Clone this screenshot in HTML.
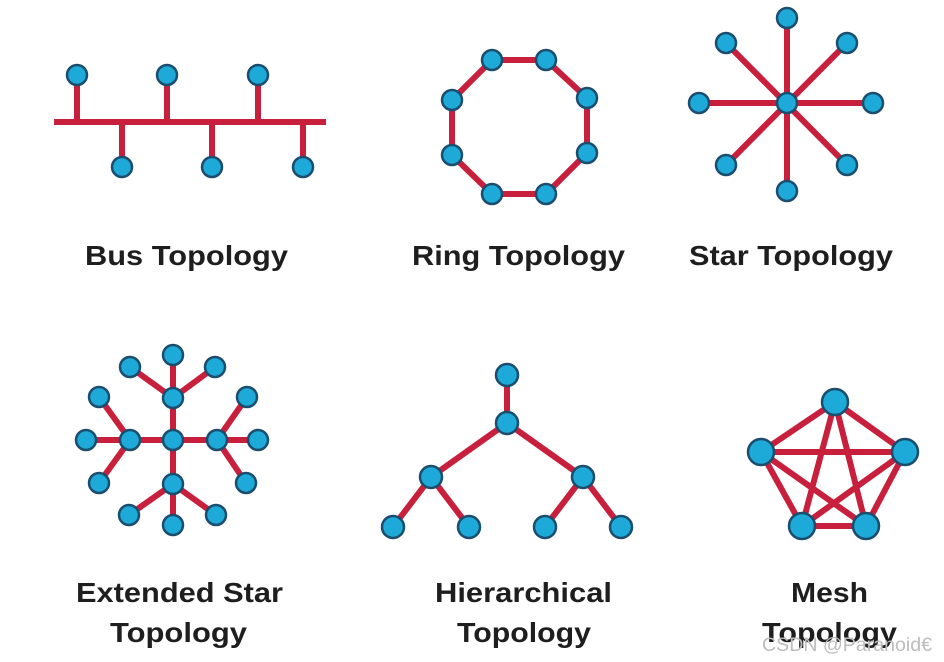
<!DOCTYPE html>
<html><head><meta charset="utf-8"><style>
html,body{margin:0;padding:0;background:#fff;}
svg{display:block;}
text{font-family:"Liberation Sans",sans-serif;font-weight:bold;fill:#1e1e1e;}
</style></head><body>
<svg width="944" height="662" viewBox="0 0 944 662" xmlns="http://www.w3.org/2000/svg">
<g stroke="#c8203c" stroke-width="6" stroke-linecap="butt" fill="none">
<!-- Bus -->
<line x1="54" y1="122" x2="326" y2="122"/>
<line x1="77" y1="75" x2="77" y2="122"/><line x1="167" y1="75" x2="167" y2="122"/><line x1="258" y1="75" x2="258" y2="122"/>
<line x1="122" y1="122" x2="122" y2="167"/><line x1="212" y1="122" x2="212" y2="167"/><line x1="303" y1="122" x2="303" y2="167"/>
<!-- Ring -->
<polygon points="492,60 546,60 587,98 587,153 546,194 492,194 452,155 452,100"/>
<!-- Star -->
<line x1="787" y1="18" x2="787" y2="191"/><line x1="699" y1="103" x2="873" y2="103"/>
<line x1="726" y1="43" x2="847" y2="165"/><line x1="847" y1="43" x2="726" y2="165"/>
<!-- Extended star -->
<line x1="173" y1="355" x2="173" y2="525"/><line x1="86" y1="440" x2="258" y2="440"/>
<line x1="130" y1="367" x2="173" y2="398"/><line x1="215" y1="367" x2="173" y2="398"/>
<line x1="99" y1="397" x2="130" y2="440"/><line x1="99" y1="483" x2="130" y2="440"/>
<line x1="247" y1="397" x2="217" y2="440"/><line x1="246" y1="483" x2="217" y2="440"/>
<line x1="129" y1="515" x2="173" y2="484"/><line x1="216" y1="515" x2="173" y2="484"/>
<!-- Hierarchical -->
<line x1="507" y1="375" x2="507" y2="423"/>
<line x1="507" y1="423" x2="431" y2="477"/><line x1="507" y1="423" x2="583" y2="477"/>
<line x1="431" y1="477" x2="393" y2="527"/><line x1="431" y1="477" x2="469" y2="527"/>
<line x1="583" y1="477" x2="545" y2="527"/><line x1="583" y1="477" x2="621" y2="527"/>
<!-- Mesh -->
<polygon points="835,402 905,452 866,526 802,526 761,452"/>
<polygon points="835,402 866,526 761,452 905,452 802,526"/>
</g>
<g fill="#1eaad8" stroke="#1b4d6e" stroke-width="2.5">
<circle cx="77" cy="75" r="10"/><circle cx="167" cy="75" r="10"/><circle cx="258" cy="75" r="10"/>
<circle cx="122" cy="167" r="10"/><circle cx="212" cy="167" r="10"/><circle cx="303" cy="167" r="10"/>
<circle cx="492" cy="60" r="10"/><circle cx="546" cy="60" r="10"/><circle cx="587" cy="98" r="10"/><circle cx="587" cy="153" r="10"/>
<circle cx="546" cy="194" r="10"/><circle cx="492" cy="194" r="10"/><circle cx="452" cy="155" r="10"/><circle cx="452" cy="100" r="10"/>
<circle cx="787" cy="103" r="10"/><circle cx="787" cy="18" r="10"/><circle cx="847" cy="43" r="10"/><circle cx="873" cy="103" r="10"/>
<circle cx="847" cy="165" r="10"/><circle cx="787" cy="191" r="10"/><circle cx="726" cy="165" r="10"/><circle cx="699" cy="103" r="10"/><circle cx="726" cy="43" r="10"/>
<circle cx="173" cy="440" r="10"/><circle cx="173" cy="398" r="10"/><circle cx="130" cy="440" r="10"/><circle cx="217" cy="440" r="10"/><circle cx="173" cy="484" r="10"/>
<circle cx="130" cy="367" r="10"/><circle cx="173" cy="355" r="10"/><circle cx="215" cy="367" r="10"/>
<circle cx="99" cy="397" r="10"/><circle cx="86" cy="440" r="10"/><circle cx="99" cy="483" r="10"/>
<circle cx="247" cy="397" r="10"/><circle cx="258" cy="440" r="10"/><circle cx="246" cy="483" r="10"/>
<circle cx="129" cy="515" r="10"/><circle cx="173" cy="525" r="10"/><circle cx="216" cy="515" r="10"/>
<circle cx="507" cy="375" r="11"/><circle cx="507" cy="423" r="11"/><circle cx="431" cy="477" r="11"/><circle cx="583" cy="477" r="11"/>
<circle cx="393" cy="527" r="11"/><circle cx="469" cy="527" r="11"/><circle cx="545" cy="527" r="11"/><circle cx="621" cy="527" r="11"/>
<circle cx="835" cy="402" r="13"/><circle cx="761" cy="452" r="13"/><circle cx="905" cy="452" r="13"/><circle cx="802" cy="526" r="13"/><circle cx="866" cy="526" r="13"/>
</g>
<g font-size="28">
<text x="85" y="265" textLength="203" lengthAdjust="spacingAndGlyphs">Bus Topology</text>
<text x="412" y="265" textLength="213" lengthAdjust="spacingAndGlyphs">Ring Topology</text>
<text x="689" y="265" textLength="204" lengthAdjust="spacingAndGlyphs">Star Topology</text>
<text x="76" y="602" textLength="207" lengthAdjust="spacingAndGlyphs">Extended Star</text>
<text x="110" y="642" textLength="137" lengthAdjust="spacingAndGlyphs">Topology</text>
<text x="435" y="602" textLength="177" lengthAdjust="spacingAndGlyphs">Hierarchical</text>
<text x="457" y="642" textLength="134" lengthAdjust="spacingAndGlyphs">Topology</text>
<text x="791" y="602" textLength="77" lengthAdjust="spacingAndGlyphs">Mesh</text>
<text x="762" y="642" textLength="135" lengthAdjust="spacingAndGlyphs">Topology</text>
</g>
<text x="762" y="651" font-size="19" style="font-weight:normal;fill:#bdbdbd" textLength="170" lengthAdjust="spacingAndGlyphs">CSDN @Paranoid€</text>
</svg>
</body></html>
